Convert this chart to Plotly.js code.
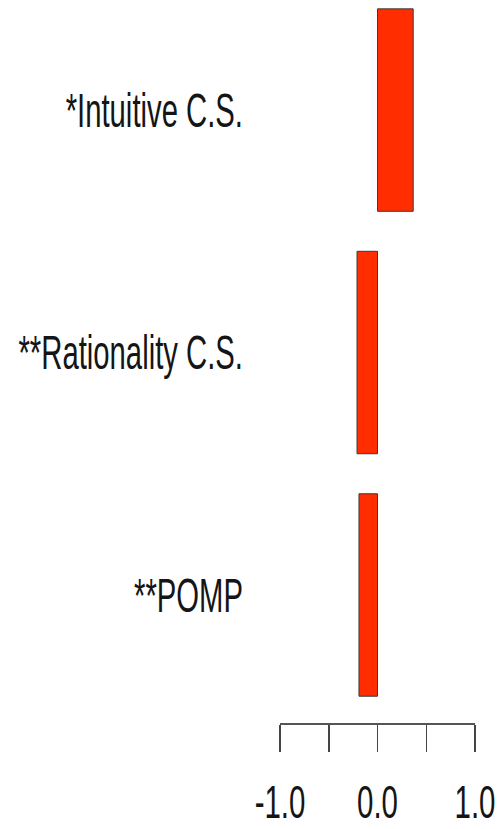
<!DOCTYPE html>
<html>
<head>
<meta charset="utf-8">
<script src="https://cdn.plot.ly/plotly-3.0.1.min.js"></script>
<style>html,body{margin:0;padding:0;background:#fff;}</style>
</head>
<body>
<div id="chart" style="width:499px;height:829px;"></div>
<script>
var categories = ['**POMP', '**Rationality C.S.', '*Intuitive C.S.'];
var values = [-0.19, -0.21, 0.366];
var tickValues = [-1, -0.5, 0, 0.5, 1];
var tickLabels = ['-1.0', '', '0.0', '', '1.0'];

var fontFam = '"Liberation Sans", Arial, Helvetica, sans-serif';

var trace = {
  type: 'bar',
  orientation: 'h',
  y: categories,
  x: values,
  marker: {color: '#FF2D00', line: {color: '#3a3a3a', width: 1}},
  hoverinfo: 'none'
};

var layout = {
  width: 499,
  height: 829,
  margin: {l: 280, r: 24, t: 0, b: 106, pad: 0},
  paper_bgcolor: '#ffffff',
  plot_bgcolor: '#ffffff',
  showlegend: false,
  bargap: 0.165,
  font: {family: fontFam, size: 46, color: '#151515'},
  xaxis: {
    range: [-1, 1],
    tickmode: 'array',
    tickvals: tickValues,
    ticktext: tickLabels,
    ticks: 'outside',
    ticklen: 27,
    tickwidth: 1.5,
    tickcolor: '#444',
    showline: true,
    linecolor: '#555',
    linewidth: 1.5,
    showgrid: false,
    zeroline: false,
    ticklabelstandoff: 11,
    ticklabeloverflow: 'allow',
    tickfont: {family: fontFam, size: 46, color: '#151515'},
    fixedrange: true
  },
  yaxis: {
    type: 'category',
    range: [-0.528, 2.454],
    showline: false,
    showgrid: false,
    zeroline: false,
    ticks: '',
    ticklabelstandoff: 36,
    tickfont: {family: fontFam, size: 48, color: '#151515'},
    fixedrange: true
  }
};

function squeeze(selector, sx) {
  var nodes = document.querySelectorAll(selector);
  nodes.forEach(function (t) {
    var x = parseFloat(t.getAttribute('x')) || 0;
    var tr = t.getAttribute('transform') || '';
    t.setAttribute('transform', tr + ' translate(' + x + ',0) scale(' + sx + ',1) translate(' + (-x) + ',0)');
  });
}

Plotly.newPlot('chart', [trace], layout, {displayModeBar: false, staticPlot: true}).then(function () {
  squeeze('.xtick text', 0.64);
  squeeze('.ytick text', 0.61);
});
</script>
</body>
</html>
